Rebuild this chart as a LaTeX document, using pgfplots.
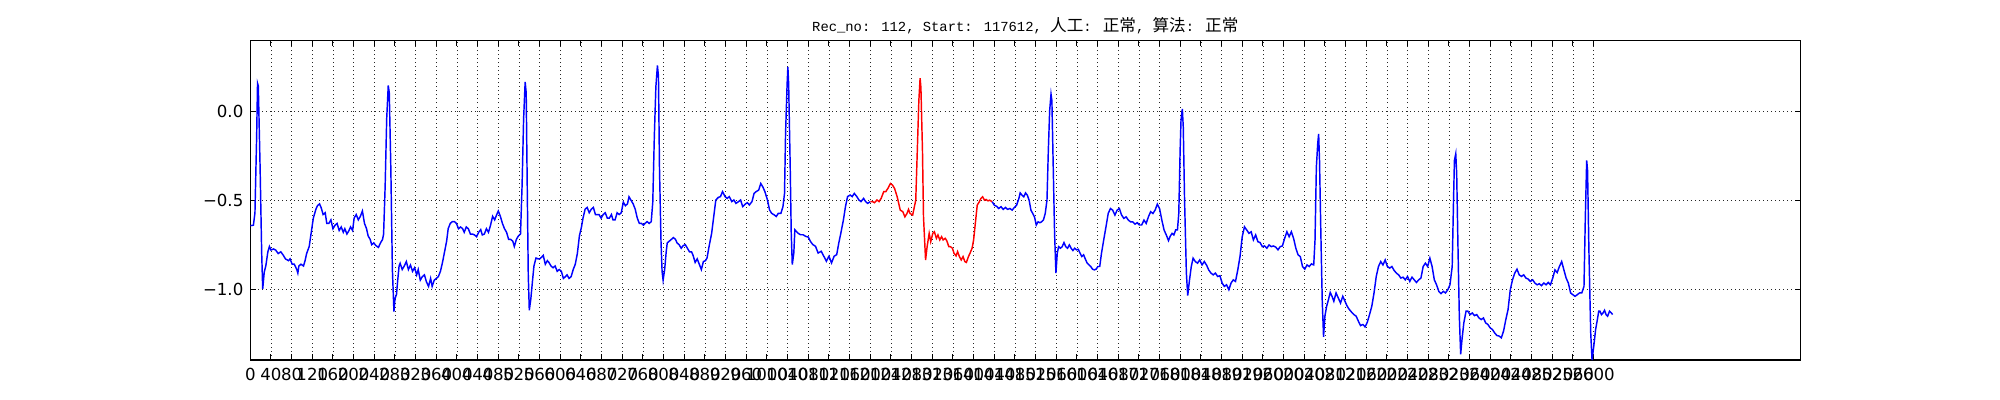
\documentclass[border=0pt]{standalone}
\usepackage{fontspec}
\setmainfont{DejaVu Sans}
\newfontfamily\cjk{Noto Sans CJK SC}
\newfontfamily\titlefont{Liberation Mono}[Scale=0.8333]
\usepackage{pgfplots}
\pgfplotsset{compat=1.18}
\begin{document}
\begin{tikzpicture}
\path[use as bounding box] (0,0) rectangle (20in,4in);
\begin{axis}[
  at={(2.503in,0.4in)}, anchor=south west,
  scale only axis, width=15.5in, height=3.193in,
  xmin=0, xmax=3000, ymin=-1.4, ymax=0.4,
  xtick={0,40,...,2600},
  ytick={-1,-0.5,0}, yticklabels={−1.0,−0.5,0.0},
  scaled x ticks=false,
  /pgf/number format/.cd, 1000 sep={}, assume math mode=true, /pgfplots/.cd,
  tick label style={font=\fontsize{12}{14.4}\selectfont},
  xticklabel style={yshift=-2.5pt},
  yticklabel style={xshift=-1.5pt},
  xmajorgrids, ymajorgrids,
  grid style={black!85, line width=0.35pt, dash pattern=on 0.5pt off 2.4pt},
  major tick length=4pt,
  tick style={black, line width=0.7pt},
  axis line style={black, line width=1pt},
  tick align=inside,
]
\addplot[blue, line width=1.05pt] coordinates {
(0,-0.643) (6,-0.640) (9,-0.570) (12.3,-0.137) (14,0.160) (15.5,0.145) (19,-0.32) (22,-0.793) (24,-1.0) (27,-0.905) (30,-0.87) (34,-0.79) (37,-0.76) (40,-0.78) (45,-0.774) (49,-0.78) (54,-0.80) (59,-0.79) (64,-0.81) (68,-0.83) (74,-0.84) (77,-0.83) (81,-0.86) (85,-0.86) (90,-0.89) (92,-0.91) (94,-0.87) (98,-0.86) (103,-0.87) (106,-0.84) (109,-0.80) (114,-0.76) (117,-0.70) (122,-0.60) (127,-0.55) (130,-0.53) (134,-0.52) (137,-0.54) (141,-0.58) (145,-0.57) (148,-0.63) (152,-0.63) (156,-0.61) (160,-0.66) (164,-0.64) (168,-0.63) (172,-0.67) (176,-0.65) (180,-0.68) (183,-0.66) (187,-0.69) (191,-0.67) (194,-0.65) (198,-0.67) (201,-0.60) (205,-0.58) (209,-0.61) (213,-0.59) (217,-0.56) (221,-0.63) (225,-0.66) (228,-0.70) (232,-0.72) (235,-0.75) (239,-0.74) (243,-0.755) (248,-0.765) (252,-0.74) (256,-0.72) (258,-0.69) (261,-0.42) (264,-0.04) (267,0.148) (269,0.107) (272,-0.32) (275,-0.89) (278,-1.127) (280,-1.055) (283,-1.03) (285,-0.96) (288,-0.87) (290,-0.855) (294,-0.89) (298,-0.87) (302,-0.845) (306,-0.89) (310,-0.865) (314,-0.90) (318,-0.88) (322,-0.92) (325,-0.89) (329,-0.95) (333,-0.93) (337,-0.92) (341,-0.96) (345,-0.985) (349,-0.94) (352,-0.985) (356,-0.95) (360,-0.94) (364,-0.93) (368,-0.90) (372,-0.85) (376,-0.79) (380,-0.73) (383,-0.66) (387,-0.63) (391,-0.62) (395,-0.62) (399,-0.63) (403,-0.66) (407,-0.65) (411,-0.66) (414,-0.68) (418,-0.65) (422,-0.66) (426,-0.69) (430,-0.69) (434,-0.695)
(438,-0.705) (442,-0.68) (446,-0.665) (449,-0.695) (453,-0.69) (457,-0.66) (461,-0.68) (465,-0.64) (469,-0.59) (473,-0.61) (477,-0.58) (480,-0.56) (484,-0.59) (488,-0.63) (492,-0.66) (496,-0.68) (500,-0.72) (504,-0.72) (508,-0.73) (511,-0.76) (515,-0.72) (519,-0.70) (523,-0.69) (526,-0.42) (529,-0.04) (532,0.167) (534,0.107) (536,-0.42) (538,-0.92) (540,-1.12) (543,-1.055) (546,-0.96) (549,-0.87) (553,-0.825) (557,-0.83) (560,-0.83) (564,-0.82) (567,-0.81) (571,-0.86) (575,-0.84) (578,-0.85) (582,-0.87) (586,-0.88) (590,-0.87) (594,-0.90) (598,-0.89) (602,-0.90) (606,-0.94) (610,-0.93) (613,-0.92) (617,-0.94) (621,-0.93) (625,-0.89) (629,-0.86) (633,-0.80) (637,-0.70) (641,-0.65) (644,-0.60) (648,-0.55) (652,-0.54) (656,-0.57) (660,-0.55) (664,-0.54) (668,-0.58) (671,-0.58) (675,-0.58) (679,-0.60) (683,-0.58) (687,-0.57) (691,-0.60) (695,-0.60) (699,-0.58) (702,-0.61) (706,-0.61) (710,-0.57) (714,-0.58) (718,-0.57) (722,-0.51) (726,-0.53) (730,-0.52) (733,-0.48) (737,-0.50) (741,-0.52) (745,-0.55) (749,-0.60) (753,-0.63) (757,-0.63) (761,-0.64) (764,-0.63) (768,-0.62) (772,-0.63) (776,-0.62) (779,-0.51) (782,-0.14) (785,0.14) (788,0.26) (790,0.20) (792,-0.32) (795,-0.74) (797,-0.90) (799,-0.95) (802,-0.89) (805,-0.79) (807,-0.74) (811,-0.73) (815,-0.72) (819,-0.71) (823,-0.72) (826,-0.74) (830,-0.75) (834,-0.77) (838,-0.755) (842,-0.75) (846,-0.77) (850,-0.79) (854,-0.79) (857,-0.81) (861,-0.85) (865,-0.83) (869,-0.86) (873,-0.89) (877,-0.845) (881,-0.84)
(884,-0.825) (888,-0.759) (893,-0.685) (897,-0.591) (901,-0.498) (906,-0.483) (910,-0.479) (914,-0.451) (919,-0.479) (923,-0.489) (927,-0.479) (932,-0.507) (936,-0.498) (940,-0.517) (945,-0.507) (949,-0.498) (953,-0.535) (958,-0.521) (962,-0.513) (966,-0.526) (971,-0.507) (975,-0.461) (979,-0.451) (984,-0.442) (988,-0.405) (992,-0.424) (996,-0.451) (1001,-0.498) (1005,-0.554) (1009,-0.573) (1014,-0.582) (1018,-0.591) (1022,-0.573) (1027,-0.573) (1031,-0.535) (1034,-0.461) (1036,-0.125) (1039,0.155) (1040.5,0.252) (1042,0.155) (1045,-0.312) (1047,-0.685) (1049,-0.862) (1052,-0.797) (1054,-0.666) (1060,-0.685) (1065,-0.694) (1070,-0.694) (1075,-0.703) (1080,-0.707) (1084,-0.731) (1089,-0.750) (1094,-0.759) (1099,-0.797) (1105,-0.787) (1110,-0.815) (1115,-0.843) (1120,-0.815) (1125,-0.853) (1130,-0.815) (1135,-0.806) (1139,-0.741) (1143,-0.685) (1148,-0.610) (1152,-0.535) (1156,-0.479) (1161,-0.470) (1165,-0.479) (1169,-0.461) (1174,-0.479) (1178,-0.498) (1182,-0.507) (1187,-0.489) (1191,-0.507) (1195,-0.517) (1200,-0.507)
};
\addplot[red, line width=1.05pt] coordinates {
(1200,-0.507) (1204,-0.507) (1208,-0.513) (1213,-0.498) (1217,-0.507) (1221,-0.489) (1226,-0.451) (1230,-0.451) (1234,-0.433) (1239,-0.405) (1243,-0.414) (1247,-0.433) (1252,-0.479) (1258,-0.555) (1263,-0.564) (1267,-0.593) (1271,-0.574) (1274,-0.551) (1277,-0.574) (1282,-0.583) (1284,-0.555) (1288,-0.499) (1291,-0.219) (1294,0.062) (1296.4,0.189) (1298,0.136) (1301,-0.219) (1303,-0.593) (1307,-0.836) (1310,-0.761) (1314,-0.686) (1317,-0.733) (1321,-0.686) (1324,-0.677) (1328,-0.714) (1331,-0.695) (1334.5,-0.723) (1338,-0.705) (1341,-0.723) (1345,-0.714) (1348,-0.727) (1352,-0.761) (1355,-0.761) (1359,-0.770) (1362,-0.798) (1366,-0.813) (1369,-0.789) (1372.5,-0.817) (1376,-0.836) (1379.5,-0.817) (1383,-0.845) (1386,-0.850) (1390,-0.817) (1393,-0.798) (1397,-0.770) (1400,-0.723) (1404,-0.611) (1407,-0.527) (1411,-0.508) (1414,-0.490) (1417.5,-0.480) (1421,-0.499) (1424,-0.495) (1428,-0.503) (1431,-0.499) (1436,-0.508)
};
\addplot[blue, line width=1.05pt] coordinates {
(1436,-0.508) (1440,-0.527) (1444.3,-0.533) (1448.6,-0.546) (1453,-0.536) (1457.3,-0.551) (1461.6,-0.540) (1465.9,-0.551) (1470.2,-0.546) (1474.6,-0.555) (1478.9,-0.540) (1483.2,-0.527) (1487.5,-0.490) (1490.1,-0.458) (1493.6,-0.471) (1497.1,-0.480) (1500.5,-0.458) (1504,-0.471) (1507.4,-0.499) (1510.9,-0.555) (1514.4,-0.574) (1517.8,-0.593) (1521.3,-0.639) (1524.7,-0.621) (1528.2,-0.626) (1531.6,-0.621) (1535.1,-0.611) (1538.6,-0.574) (1542,-0.499) (1544.6,-0.219) (1547.2,0.006) (1549.8,0.099) (1551.5,0.062) (1554.1,-0.312) (1556.7,-0.686) (1559.3,-0.910) (1561.9,-0.798) (1564.5,-0.761) (1568,-0.770) (1571.4,-0.761) (1574.9,-0.738) (1578.3,-0.761) (1581.8,-0.770) (1585.3,-0.751) (1588.7,-0.770) (1592.2,-0.783) (1595.6,-0.770) (1599.1,-0.779) (1602.6,-0.776) (1606,-0.798) (1609.5,-0.817) (1612.9,-0.807) (1616.4,-0.832) (1619.8,-0.854) (1623.3,-0.864) (1626.8,-0.873) (1630.2,-0.888) (1633.7,-0.892) (1637.1,-0.888) (1640.6,-0.873) (1644.1,-0.873) (1647.5,-0.798) (1651.8,-0.723) (1656.2,-0.649) (1660.5,-0.574) (1664.8,-0.546) (1669.1,-0.555) (1673.5,-0.583) (1677.8,-0.555) (1682.1,-0.546) (1686.4,-0.583) (1690.8,-0.602) (1695.1,-0.593) (1699.4,-0.611) (1703.7,-0.621) (1708,-0.621) (1712.4,-0.634) (1716.7,-0.626) (1721,-0.639) (1725.3,-0.639) (1729.7,-0.611) (1734,-0.630) (1738.3,-0.593) (1742.6,-0.564) (1747,-0.574) (1751.3,-0.555) (1755.6,-0.521) (1759.9,-0.546) (1764.3,-0.611) (1768.6,-0.667) (1772.9,-0.695) (1777.2,-0.727) (1780.7,-0.701) (1784.1,-0.686) (1787.6,-0.695) (1791.1,-0.667) (1794.5,-0.667) (1797.1,-0.574) (1799.7,-0.219) (1801.4,-0.050) (1804,0.015) (1805.8,-0.088) (1808.3,-0.499) (1811.8,-0.910) (1814.4,-1.037) (1817.9,-0.948) (1821.3,-0.873) (1824.8,-0.826) (1829.1,-0.845) (1833.4,-0.854) (1837.7,-0.836) (1842.1,-0.864) (1846.4,-0.845) (1850.7,-0.864) (1855,-0.892) (1859.4,-0.910) (1863.7,-0.920) (1868,-0.910) (1872.3,-0.929) (1876.7,-0.925) (1881,-0.966) (1885.3,-0.985) (1889.6,-0.976) (1894,-1.004) (1898.3,-0.966) (1902.6,-0.948) (1906.9,-0.957) (1911.3,-0.892) (1915.6,-0.817) (1919.9,-0.705) (1924.2,-0.649) (1928.6,-0.667) (1932.9,-0.686) (1937.2,-0.677) (1941.5,-0.723) (1945.9,-0.695) (1950.2,-0.733) (1954.5,-0.738) (1958.8,-0.761) (1963.1,-0.757) (1967.5,-0.770) (1971.8,-0.751) (1976.1,-0.761) (1980.4,-0.757) (1984.8,-0.764) (1989.1,-0.779) (1993.4,-0.761) (1997.7,-0.757) (2002,-0.714) (2006.4,-0.677) (2010.7,-0.705) (2015,-0.677) (2019.3,-0.714) (2023.7,-0.770) (2028,-0.807) (2032.3,-0.817) (2036.6,-0.873) (2041,-0.888) (2045.3,-0.864) (2049.6,-0.873) (2053.9,-0.858) (2058.3,-0.864) (2060.8,-0.723) (2063.4,-0.312) (2066,-0.181) (2067.8,-0.125) (2069.5,-0.275) (2072.1,-0.686) (2074.7,-1.060) (2077.3,-1.269) (2079.9,-1.153) (2083.3,-1.097) (2086.8,-1.060) (2090.2,-1.019) (2093.7,-1.041) (2097.2,-1.069) (2101.5,-1.022) (2105.8,-1.050) (2110.1,-1.079) (2114.5,-1.041) (2118.8,-1.069) (2123.1,-1.097) (2127.4,-1.116) (2131.8,-1.131) (2136.1,-1.144) (2140.4,-1.153) (2144.7,-1.181) (2149,-1.206) (2153.4,-1.200) (2157.7,-1.213) (2162,-1.187) (2166.3,-1.144) (2170.7,-1.097) (2175,-1.022) (2179.3,-0.929) (2183.6,-0.873) (2188,-0.845) (2192.3,-0.864) (2196.6,-0.836) (2200.9,-0.873) (2205.3,-0.882) (2209.6,-0.873) (2213.9,-0.895) (2218.2,-0.910) (2222.6,-0.920) (2226.9,-0.938) (2231.2,-0.933) (2235.5,-0.948) (2239.8,-0.929) (2244.2,-0.957) (2248.5,-0.933) (2252.8,-0.948) (2257.1,-0.963) (2261.5,-0.948) (2265.8,-0.938) (2270.1,-0.873) (2274.4,-0.854) (2278.8,-0.873) (2283.1,-0.826) (2287.4,-0.873) (2291.7,-0.948) (2296,-0.976) (2300.4,-1.013) (2304.7,-1.026) (2309,-1.013) (2313.3,-1.022) (2317.7,-1.004) (2322,-0.976) (2326.3,-0.873) (2328.9,-0.499) (2330.6,-0.275) (2333.2,-0.237) (2335,-0.350) (2337.6,-0.779) (2340.1,-1.153) (2342.7,-1.368) (2345.3,-1.284) (2348.8,-1.191) (2353.1,-1.125) (2356.6,-1.125) (2360.9,-1.144) (2365.2,-1.135) (2369.5,-1.150) (2373.8,-1.144) (2378.2,-1.163) (2382.5,-1.172) (2386.8,-1.163) (2391.1,-1.191) (2395.5,-1.200) (2399.8,-1.219) (2404.1,-1.228) (2408.4,-1.247) (2412.8,-1.262) (2417.1,-1.265) (2421.4,-1.275) (2425.7,-1.237) (2430.1,-1.172) (2434.4,-1.116) (2438.7,-1.004) (2443,-0.948) (2447.4,-0.910) (2451.7,-0.888) (2456,-0.920) (2460.3,-0.929) (2464.7,-0.920) (2469,-0.938) (2473.3,-0.944) (2477.6,-0.957) (2482,-0.948) (2486.3,-0.966) (2490.6,-0.976) (2494.9,-0.970) (2499.2,-0.981) (2503.6,-0.966) (2507.9,-0.976) (2512.2,-0.963) (2516.5,-0.976) (2520.9,-0.938) (2525.2,-0.892) (2529.5,-0.907) (2533.8,-0.873) (2538.2,-0.845) (2542.5,-0.892) (2546.8,-0.938) (2551.1,-0.966) (2555.5,-1.022) (2559.8,-1.032) (2564.1,-1.041) (2568.4,-1.032) (2572.8,-1.022) (2577.1,-1.022) (2581.4,-0.985) (2584,-0.593) (2586.6,-0.275) (2588.3,-0.331) (2590.9,-0.779) (2594.4,-1.247) (2597,-1.400) (2600.4,-1.321) (2603.9,-1.228) (2607.3,-1.172) (2609.9,-1.125) (2612.3,-1.125) (2615.2,-1.144) (2618.2,-1.135) (2621.2,-1.120) (2624.1,-1.144) (2627.1,-1.153) (2630.8,-1.125) (2634.5,-1.135) (2636.7,-1.144)
};
\end{axis}
\node[anchor=base, inner sep=0pt] at (10.253in,3.68in) {\fontsize{12}{14}\selectfont\titlefont Rec\_no: 112, Start: 117612, {\cjk 人工}: {\cjk 正常}, {\cjk 算法}: {\cjk 正常}};
\end{tikzpicture}
\end{document}
